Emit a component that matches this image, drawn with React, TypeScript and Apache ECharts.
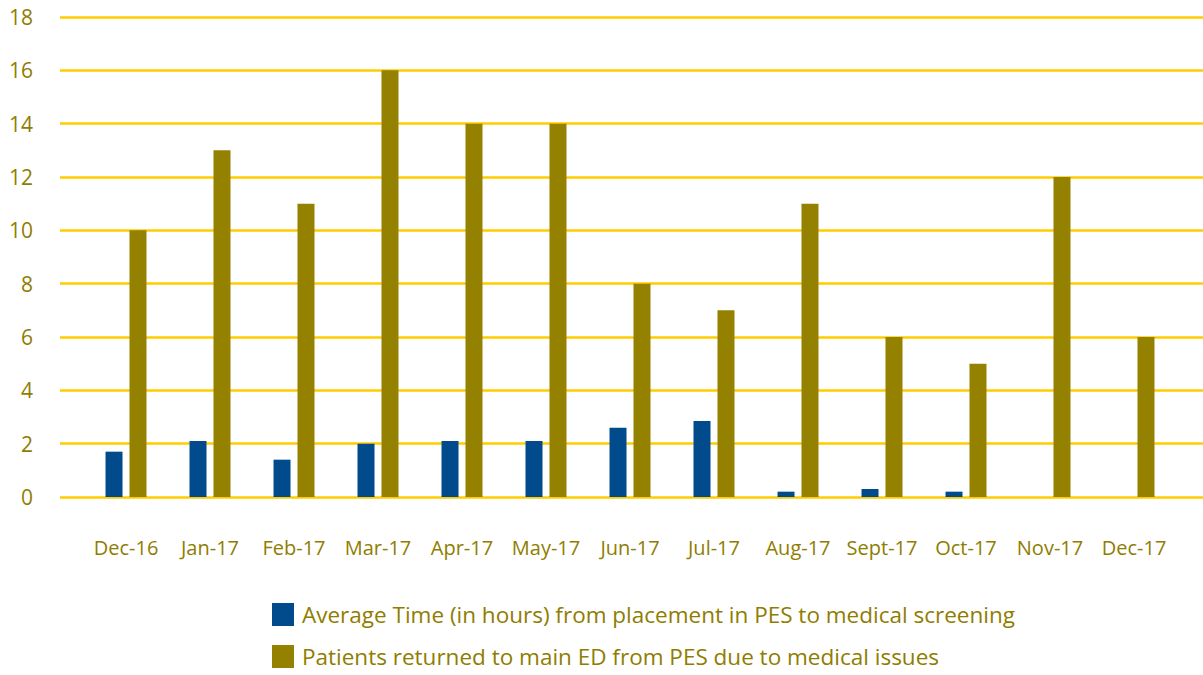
import React, { useEffect, useRef } from "react";
import * as echarts from "echarts";

const categories = ["Dec-16", "Jan-17", "Feb-17", "Mar-17", "Apr-17", "May-17", "Jun-17", "Jul-17", "Aug-17", "Sept-17", "Oct-17", "Nov-17", "Dec-17"];
const avgTime = [1.7, 2.1, 1.4, 2.0, 2.1, 2.1, 2.6, 2.85, 0.2, 0.3, 0.2, 0, 0];
const returned = [10, 13, 11, 16, 14, 14, 8, 7, 11, 6, 5, 12, 6];
const seriesNames = [
  "Average Time (in hours) from placement in PES to medical screening",
  "Patients returned to main ED from PES due to medical issues",
];

const GOLD_TEXT = "#8f7d00";
const GOLD_BAR = "#958100";
const BLUE = "#014b8d";
const GRID = "#ffcc00";
const FONT = "'Open Sans', Lato, sans-serif";

export default function App() {
  const ref = useRef<HTMLDivElement>(null);
  useEffect(() => {
    const chart = echarts.init(ref.current!, null, { renderer: "svg" });
    chart.setOption({
      animation: false,
      textStyle: { fontFamily: FONT },
      grid: [
        { left: 60, right: 0, top: 17, bottom: 178 },
        { left: 84, right: 27, top: 17, bottom: 178 },
      ],
      legend: {
        orient: "vertical",
        left: 272,
        top: 603,
        padding: 0,
        itemWidth: 22,
        itemHeight: 23,
        itemGap: 19,
        icon: "rect",
        textStyle: { color: GOLD_TEXT, fontSize: 22.5, fontFamily: FONT, padding: [0, 0, 0, 3] },
        data: seriesNames,
      },
      xAxis: [
        { type: "category", gridIndex: 0, data: categories, show: false },
        {
          type: "category",
          gridIndex: 1,
          data: categories,
          axisLine: { show: false },
          axisTick: { show: false },
          axisLabel: { color: GOLD_TEXT, fontSize: 20, margin: 40, fontFamily: FONT, interval: 0 },
        },
      ],
      yAxis: [
        {
          type: "value",
          gridIndex: 0,
          min: 0,
          max: 18,
          interval: 2,
          axisLine: { show: false },
          axisTick: { show: false },
          axisLabel: { color: GOLD_TEXT, fontSize: 21, margin: 27, fontFamily: FONT },
          splitLine: { lineStyle: { color: GRID, width: 2.5 } },
        },
        {
          type: "value",
          gridIndex: 1,
          min: 0,
          max: 18,
          interval: 2,
          show: false,
          splitLine: { show: false },
        },
      ],
      series: [
        {
          name: seriesNames[0],
          type: "bar",
          xAxisIndex: 1,
          yAxisIndex: 1,
          data: avgTime,
          barWidth: 17,
          barGap: "41%",
          itemStyle: { color: BLUE },
        },
        {
          name: seriesNames[1],
          type: "bar",
          xAxisIndex: 1,
          yAxisIndex: 1,
          data: returned,
          barWidth: 17,
          barGap: "41%",
          itemStyle: { color: GOLD_BAR },
        },
      ],
    });
    return () => chart.dispose();
  }, []);
  return <div ref={ref} style={{ width: 1203, height: 675, position: "absolute", left: 0, top: 0 }} />;
}
